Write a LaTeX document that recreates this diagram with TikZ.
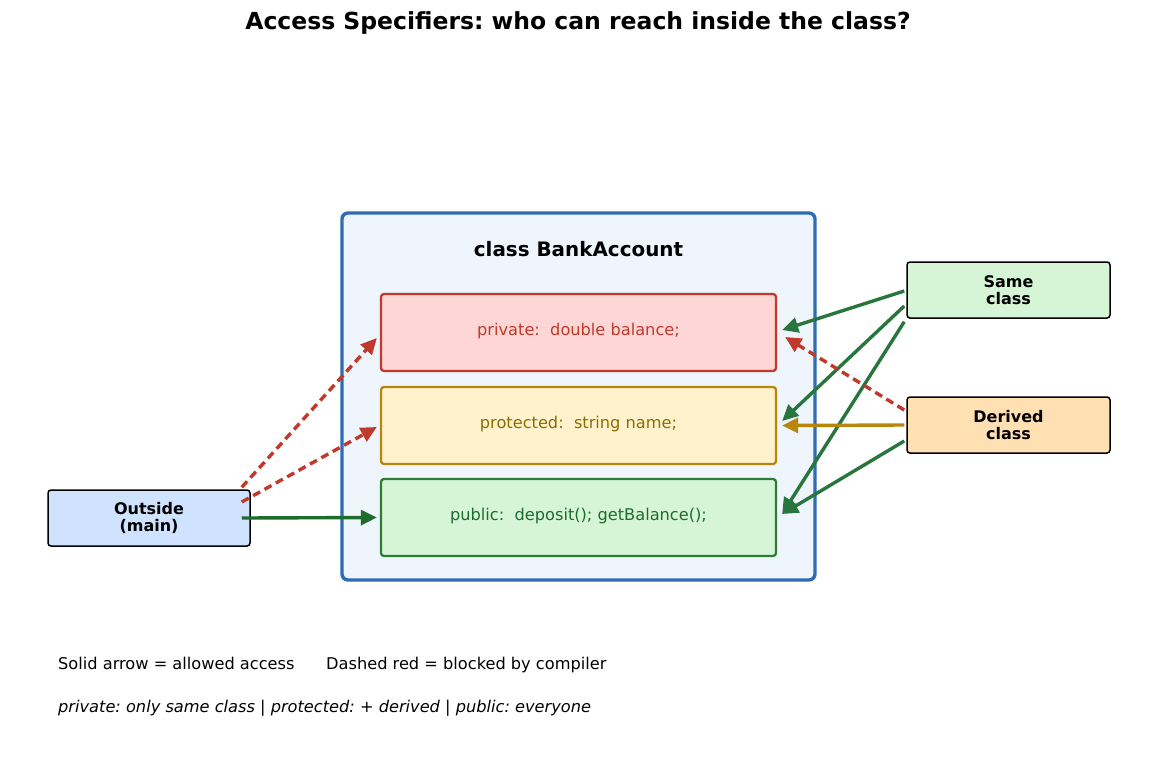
\documentclass[tikz,border=0pt]{standalone}
\usepackage{fontspec}
\setmainfont{DejaVu Sans}
\frenchspacing
\usepackage{xcolor}
\definecolor{classblue}{RGB}{46,109,180}
\definecolor{classfill}{RGB}{238,245,253}
\definecolor{privred}{RGB}{192,57,43}
\definecolor{privfill}{RGB}{255,214,214}
\definecolor{protgold}{RGB}{184,134,11}
\definecolor{protfill}{RGB}{255,242,204}
\definecolor{prottext}{RGB}{139,110,0}
\definecolor{pubgreen}{RGB}{46,125,50}
\definecolor{pubfill}{RGB}{214,245,214}
\definecolor{pubtext}{RGB}{30,107,46}
\definecolor{okgreen}{RGB}{40,118,62}
\definecolor{outfill}{RGB}{207,226,255}
\definecolor{derfill}{RGB}{255,224,178}
\usetikzlibrary{arrows.meta,positioning,calc}
\tikzset{
    member/.style={draw, line width=2.3pt, rounded corners=3pt, minimum width=395pt,
        minimum height=77pt, font=\fontsize{16.2}{19}\selectfont},
    actor/.style={draw=black, line width=1.5pt, rounded corners=3pt, minimum width=203pt,
        minimum height=56pt, align=center, font=\fontsize{16}{16.5}\selectfont\bfseries},
    allowed/.style={-{Triangle[length=16pt,width=15pt]}, line width=3.4pt, okgreen},
    blocked/.style={-{Triangle[length=16pt,width=15pt]}, line width=3.4pt, privred,
        dash pattern=on 8pt off 5pt},
    legend/.style={anchor=base west, inner sep=0pt, font=\fontsize{16.2}{19}\selectfont}
}

\begin{document}
\begin{tikzpicture}[x=1pt, y=-1pt]
    \useasboundingbox[fill=white] (0,0) rectangle (1156,766);

    \node[font=\fontsize{23.5}{28}\selectfont\bfseries] (title) at (578,23)
        {Access Specifiers: who can reach inside the class?};

    \node[draw=classblue, fill=classfill, line width=3.4pt, rounded corners=6pt,
        minimum width=473pt, minimum height=367pt] (cls) at (578.5,396.5) {};
    \node[font=\fontsize{19.9}{24}\selectfont\bfseries] (clsname) at (578.5,249) {class BankAccount};

    \node[member, draw=privred, fill=privfill, text=privred] (priv) at (578.5,332.5)
        {\raisebox{5.5pt}{private:\ \ double balance;}};
    \node[member, draw=protgold, fill=protfill, text=prottext] (prot) at (578.5,425.5)
        {\raisebox{5.5pt}{protected:\ \ string name;}};
    \node[member, draw=pubgreen, fill=pubfill, text=pubtext] (pub) at (578.5,517.5)
        {\raisebox{5.5pt}{public:\ \ deposit(); getBalance();}};

    \node[actor, fill=outfill, minimum width=202pt] (outside) at (149,518) {Outside\\(main)};
    \node[actor, fill=pubfill] (same) at (1008.5,290) {Same\\class};
    \node[actor, fill=derfill] (derived) at (1008.5,425) {Derived\\class};

    \draw[blocked] ([xshift=-9pt,yshift=2pt]outside.north east) -- ([xshift=-3pt,yshift=-5.5pt]priv.west);
    \draw[blocked] ([xshift=-9pt,yshift=16pt]outside.east) -- ([xshift=-3pt,yshift=-1.5pt]prot.west);
    \draw[allowed, pubtext] ([xshift=-9pt]outside.east) -- ([xshift=-3pt]pub.west);

    \draw[allowed] ([xshift=-2pt,yshift=-1pt]same.west) -- ([xshift=5pt,yshift=2.5pt]priv.east);
    \draw[allowed] ([xshift=-2pt,yshift=-16pt]same.west) -- ([xshift=5pt,yshift=4.5pt]prot.east);
    \draw[allowed] ([xshift=-2pt,yshift=-3pt]same.south west) -- ([xshift=5pt,yshift=3.5pt]pub.east);

    \draw[blocked] ([xshift=-2pt,yshift=15pt]derived.west) -- ([xshift=8pt,yshift=-4.5pt]priv.east);
    \draw[allowed, protgold] ([xshift=-2pt]derived.west) -- ([xshift=5pt]prot.east);
    \draw[allowed] ([xshift=-2pt,yshift=-16pt]derived.west) -- ([xshift=5pt,yshift=3.5pt]pub.east);

    \node[legend] (legsolid) at (58,669) {Solid arrow = allowed access};
    \node[legend] (legdash) at (326,669) {Dashed red = blocked by compiler};
    \node[legend, font=\fontsize{16.2}{19}\selectfont\itshape] (legrule) at (58,712)
        {private: only same class | protected: + derived | public: everyone};
\end{tikzpicture}
\end{document}
